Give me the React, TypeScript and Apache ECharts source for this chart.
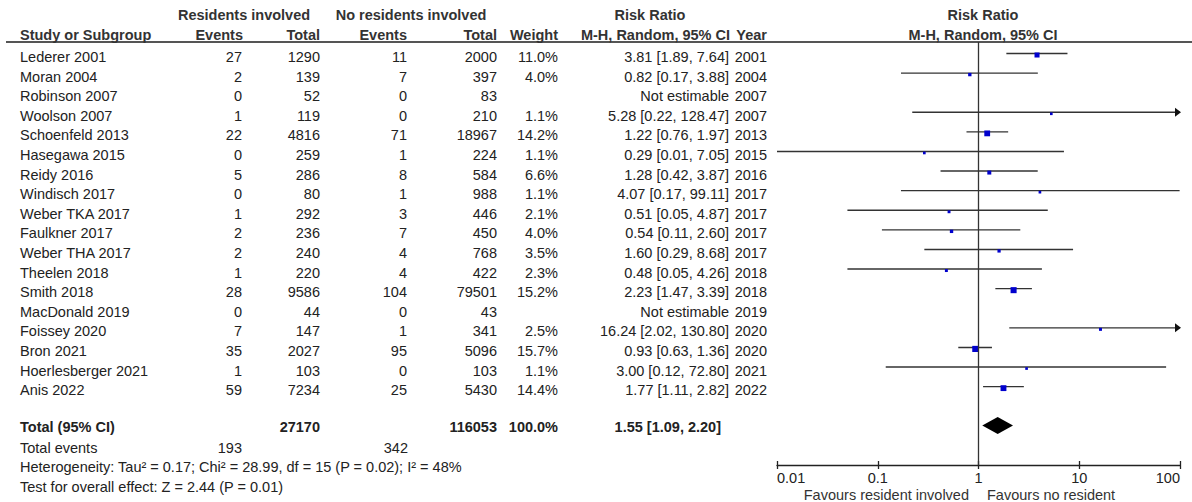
import React, { useEffect, useRef } from 'react';
import * as echarts from 'echarts';

// ---------- data ----------
const studies = ['Lederer 2001', 'Moran 2004', 'Robinson 2007', 'Woolson 2007', 'Schoenfeld 2013', 'Hasegawa 2015', 'Reidy 2016', 'Windisch 2017', 'Weber TKA 2017', 'Faulkner 2017', 'Weber THA 2017', 'Theelen 2018', 'Smith 2018', 'MacDonald 2019', 'Foissey 2020', 'Bron 2021', 'Hoerlesberger 2021', 'Anis 2022'];
const resEvents = [27, 2, 0, 1, 22, 0, 5, 0, 1, 2, 2, 1, 28, 0, 7, 35, 1, 59];
const resTotal = [1290, 139, 52, 119, 4816, 259, 286, 80, 292, 236, 240, 220, 9586, 44, 147, 2027, 103, 7234];
const noEvents = [11, 7, 0, 0, 71, 1, 8, 1, 3, 7, 4, 4, 104, 0, 1, 95, 0, 25];
const noTotal = [2000, 397, 83, 210, 18967, 224, 584, 988, 446, 450, 768, 422, 79501, 43, 341, 5096, 103, 5430];
const weights: (number | null)[] = [11.0, 4.0, null, 1.1, 14.2, 1.1, 6.6, 1.1, 2.1, 4.0, 3.5, 2.3, 15.2, null, 2.5, 15.7, 1.1, 14.4];
const rr: (number | null)[] = [3.81, 0.82, null, 5.28, 1.22, 0.29, 1.28, 4.07, 0.51, 0.54, 1.60, 0.48, 2.23, null, 16.24, 0.93, 3.00, 1.77];
const ciLow: (number | null)[] = [1.89, 0.17, null, 0.22, 0.76, 0.01, 0.42, 0.17, 0.05, 0.11, 0.29, 0.05, 1.47, null, 2.02, 0.63, 0.12, 1.11];
const ciHigh: (number | null)[] = [7.64, 3.88, null, 128.47, 1.97, 7.05, 3.87, 99.11, 4.87, 2.60, 8.68, 4.26, 3.39, null, 130.80, 1.36, 72.80, 2.82];
const years = [2001, 2004, 2007, 2007, 2013, 2015, 2016, 2017, 2017, 2017, 2017, 2018, 2018, 2019, 2020, 2020, 2021, 2022];

const totalRes = 27170;
const totalNo = 116053;
const totalWeight = '100.0%';
const pooled = { rr: 1.55, lo: 1.09, hi: 2.2 };
const totalEventsRes = 193;
const totalEventsNo = 342;
const heterogeneityText = 'Heterogeneity: Tau² = 0.17; Chi² = 28.99, df = 15 (P = 0.02); I² = 48%';
const overallText = 'Test for overall effect: Z = 2.44 (P = 0.01)';
const tickLabels = ['0.01', '0.1', '1', '10', '100'];

// ---------- layout ----------
const FONT = "'Liberation Sans', Arial, Helvetica, sans-serif";
const FS = 14.5;
const TXT = '#222';
const TOTAL_ROW = 18.88;
const COL = { name: 20, resEv: 242, resTot: 320, noEv: 407, noTot: 497, weight: 558, ci: 729, year: 767 };

const fmtCI = (v: number, lo: number, hi: number) => `${v.toFixed(2)} [${lo.toFixed(2)}, ${hi.toFixed(2)}]`;

function txt(text: string, x: number, y: number, align: string, bold = false, color = TXT) {
  return {
    type: 'text',
    x,
    y,
    silent: true,
    style: {
      text,
      fill: color,
      font: `${bold ? 'bold ' : ''}${FS}px ${FONT}`,
      align,
      verticalAlign: 'middle',
    },
  };
}

export default function App() {
  const ref = useRef<HTMLDivElement>(null);

  useEffect(() => {
    const chart = echarts.init(ref.current!, null, { renderer: 'svg' });

    const ciData = studies
      .map((_, i) => (rr[i] != null ? [rr[i], i, ciLow[i], ciHigh[i], weights[i]] : null))
      .filter((d) => d != null);

    const tableData = studies.map((_, i) => [1, i]);

    const option: any = {
      animation: false,
      backgroundColor: '#ffffff',
      grid: { left: 777, right: 12, top: 42, bottom: 37, containLabel: false },
      xAxis: [
        {
          type: 'log',
          logBase: 10,
          min: 0.01,
          max: 100,
          position: 'bottom',
          axisLine: { show: true, onZero: false, lineStyle: { color: '#222', width: 1.3 } },
          axisTick: { show: true, inside: false, length: 4, lineStyle: { color: '#222', width: 1.3 } },
          minorTick: { show: false },
          splitLine: { show: false },
          axisLabel: {
            show: true,
            margin: 5,
            fontSize: FS,
            fontFamily: FONT,
            color: TXT,
            alignMinLabel: 'left',
            alignMaxLabel: 'right',
            formatter: (v: number) => tickLabels[Math.round(Math.log10(v)) + 2] ?? '',
          },
        },
        {
          type: 'log',
          logBase: 10,
          min: 0.01,
          max: 100,
          position: 'bottom',
          axisLine: { show: false, onZero: false },
          axisTick: { show: true, inside: true, length: 4, lineStyle: { color: '#222', width: 1.3 } },
          splitLine: { show: false },
          axisLabel: { show: false },
        },
      ],
      yAxis: {
        type: 'value',
        min: -0.765,
        max: 20.82,
        inverse: true,
        show: false,
        axisLine: { show: false, onZero: false },
        splitLine: { show: false },
      },
      series: [
        {
          type: 'scatter',
          xAxisIndex: 0,
          data: [[1, 0]],
          symbolSize: 0,
          silent: true,
          markLine: {
            silent: true,
            symbol: ['none', 'none'],
            label: { show: false },
            lineStyle: { color: '#333', width: 1.3, type: 'solid' },
            data: [{ xAxis: 1 }],
          },
        },
        {
          type: 'custom',
          name: 'ci',
          xAxisIndex: 0,
          clip: false,
          encode: { x: [0, 2, 3], y: 1 },
          data: ciData,
          renderItem: (params: any, api: any) => {
            const v = api.value(0);
            const row = api.value(1);
            const lo = api.value(2);
            const hi = api.value(3);
            const w = api.value(4);
            const c = api.coord([v, row]);
            const pl = api.coord([Math.max(lo, 0.01), row]);
            const ph = api.coord([Math.min(hi, 100), row]);
            const ly = c[1] - 3.5;
            const s = 2.4 + w * 0.24;
            const children: any[] = [
              {
                type: 'line',
                shape: { x1: pl[0], y1: ly, x2: ph[0], y2: ly },
                style: { stroke: '#333', lineWidth: 1.4 },
              },
            ];
            if (hi > 100) {
              children.push({
                type: 'polygon',
                shape: { points: [[ph[0] + 1, ly], [ph[0] - 5, ly - 4.5], [ph[0] - 5, ly + 4.5]] },
                style: { fill: '#111' },
              });
            }
            children.push({
              type: 'rect',
              shape: { x: c[0] - s / 2, y: ly + 1.5 - s / 2, width: s, height: s },
              style: { fill: '#0000cd' },
            });
            return { type: 'group', children };
          },
        },
        {
          type: 'custom',
          name: 'pooled',
          xAxisIndex: 0,
          clip: false,
          encode: { x: [0, 2, 3], y: 1 },
          data: [[pooled.rr, TOTAL_ROW, pooled.lo, pooled.hi]],
          renderItem: (params: any, api: any) => {
            const row = api.value(1);
            const c = api.coord([api.value(0), row]);
            const pl = api.coord([api.value(2), row]);
            const ph = api.coord([api.value(3), row]);
            const y = c[1] - 1.5;
            return {
              type: 'polygon',
              shape: { points: [[pl[0], y], [c[0], y - 8.5], [ph[0], y], [c[0], y + 8.5]] },
              style: { fill: '#000' },
            };
          },
        },
        {
          type: 'custom',
          name: 'table',
          xAxisIndex: 0,
          clip: false,
          silent: true,
          encode: { x: 0, y: 1 },
          data: tableData,
          renderItem: (params: any, api: any) => {
            const i = api.value(1);
            const y = api.coord([1, i])[1];
            const children: any[] = [
              txt(studies[i], COL.name, y, 'left'),
              txt(String(resEvents[i]), COL.resEv, y, 'right'),
              txt(String(resTotal[i]), COL.resTot, y, 'right'),
              txt(String(noEvents[i]), COL.noEv, y, 'right'),
              txt(String(noTotal[i]), COL.noTot, y, 'right'),
              txt(String(years[i]), COL.year, y, 'right'),
            ];
            const w = weights[i];
            if (w != null) children.push(txt(`${w.toFixed(1)}%`, COL.weight, y, 'right'));
            const v = rr[i];
            if (v != null) {
              children.push(txt(fmtCI(v, ciLow[i] as number, ciHigh[i] as number), COL.ci, y, 'right'));
            } else {
              children.push(txt('Not estimable', COL.ci, y, 'right'));
            }
            return { type: 'group', children };
          },
        },
        {
          type: 'custom',
          name: 'totalRow',
          xAxisIndex: 0,
          clip: false,
          silent: true,
          encode: { x: 0, y: 1 },
          data: [[1, TOTAL_ROW]],
          renderItem: (params: any, api: any) => {
            const y = api.coord([1, api.value(1)])[1];
            return {
              type: 'group',
              children: [
                txt('Total (95% CI)', COL.name, y, 'left', true),
                txt(String(totalRes), COL.resTot, y, 'right', true),
                txt(String(totalNo), COL.noTot, y, 'right', true),
                txt(totalWeight, COL.weight, y, 'right', true),
                txt(fmtCI(pooled.rr, pooled.lo, pooled.hi), COL.ci - 8, y, 'right', true),
              ],
            };
          },
        },
      ],
      graphic: [
        { type: 'line', silent: true, shape: { x1: 6, y1: 42, x2: 1192, y2: 42 }, style: { stroke: '#555', lineWidth: 2 } },
        txt('Residents involved', 244, 15, 'center', true, '#333'),
        txt('No residents involved', 411, 15, 'center', true, '#333'),
        txt('Risk Ratio', 650, 15, 'center', true, '#333'),
        txt('Risk Ratio', 983, 15, 'center', true, '#333'),
        txt('Study or Subgroup', COL.name, 35, 'left', true, '#333'),
        txt('Events', COL.resEv + 1, 35, 'right', true, '#333'),
        txt('Total', COL.resTot, 35, 'right', true, '#333'),
        txt('Events', COL.noEv, 35, 'right', true, '#333'),
        txt('Total', COL.noTot, 35, 'right', true, '#333'),
        txt('Weight', COL.weight, 35, 'right', true, '#333'),
        txt('M-H, Random, 95% CI', COL.ci + 1, 35, 'right', true, '#333'),
        txt('Year', COL.year, 35, 'right', true, '#333'),
        txt('M-H, Random, 95% CI', 983, 35, 'center', true, '#333'),
        txt('Total events', COL.name, 448, 'left'),
        txt(String(totalEventsRes), COL.resEv, 448, 'right'),
        txt(String(totalEventsNo), COL.noEv + 1, 448, 'right'),
        txt(heterogeneityText, COL.name, 467, 'left'),
        txt(overallText, COL.name, 487, 'left'),
        txt('Favours resident involved', 969, 495, 'right', false, '#333'),
        txt('Favours no resident', 987, 495, 'left', false, '#333'),
      ],
    };

    chart.setOption(option);
    return () => chart.dispose();
  }, []);

  return (
    <div
      ref={ref}
      style={{ position: 'absolute', left: 0, top: 0, width: 1192, height: 502, background: '#fff' }}
    />
  );
}
